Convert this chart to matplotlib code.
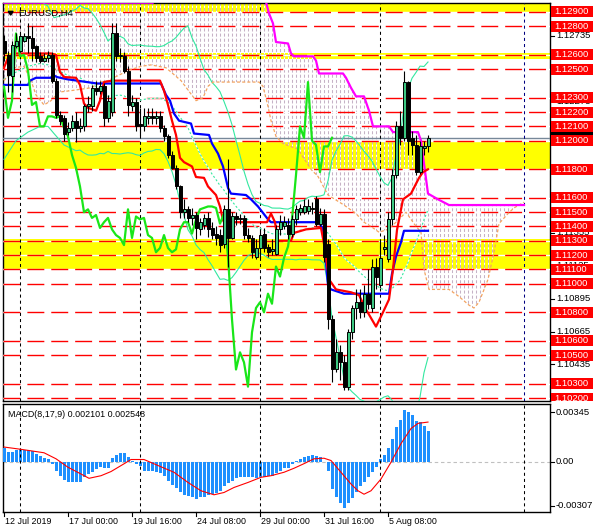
import numpy as np
import pandas as pd
import matplotlib
matplotlib.use('Agg')
import matplotlib.pyplot as plt
from matplotlib.patches import Rectangle, Polygon

plt.rcParams['font.family'] = ['Liberation Sans', 'DejaVu Sans']
plt.rcParams['lines.scale_dashes'] = False

# ---------------- data ----------------
opens = [1.1270, 1.1260, 1.1245, 1.1266, 1.1263, 1.1270, 1.1273, 1.1272, 1.1266, 1.1259,
         1.1256, 1.1258, 1.1260, 1.1242, 1.1218, 1.1216, 1.1206, 1.1209, 1.1214, 1.1209,
         1.1210, 1.1224, 1.1224, 1.1237, 1.1235, 1.1238, 1.1216, 1.1220, 1.1275, 1.1259,
         1.1259, 1.1249, 1.1224, 1.1227, 1.1212, 1.1210, 1.1216, 1.1217, 1.1216, 1.1217,
         1.1209, 1.1203, 1.1190, 1.1181, 1.1168, 1.1150, 1.1152, 1.1146, 1.1148, 1.1138,
         1.1141, 1.1146, 1.1139, 1.1135, 1.1134, 1.1128, 1.1152, 1.1132, 1.1147, 1.1145,
         1.1146, 1.1134, 1.1132, 1.1119, 1.1125, 1.1135, 1.1126, 1.1123, 1.1121, 1.1138,
         1.1140, 1.1141, 1.1135, 1.1145, 1.1150, 1.1150, 1.1151, 1.1152, 1.1159, 1.1142,
         1.1149, 1.1128, 1.1075, 1.1040, 1.1052, 1.1045, 1.1028, 1.1066, 1.1083, 1.1087,
         1.1080, 1.1093, 1.1083, 1.1112, 1.1099, 1.1124, 1.1117, 1.1145, 1.1176, 1.1210,
         1.1202, 1.1241, 1.1202, 1.1197, 1.1178, 1.1195, 1.1196]
highs = [1.1274, 1.1263, 1.1270, 1.1275, 1.1275, 1.1275, 1.1282, 1.1280, 1.1267, 1.1262,
         1.1261, 1.1263, 1.1262, 1.1244, 1.1221, 1.1218, 1.1213, 1.1218, 1.1220, 1.1216,
         1.1226, 1.1231, 1.1239, 1.1242, 1.1242, 1.1240, 1.1232, 1.1282, 1.1282, 1.1265,
         1.1262, 1.1252, 1.1232, 1.1230, 1.1223, 1.1223, 1.1223, 1.1223, 1.1221, 1.1221,
         1.1211, 1.1205, 1.1193, 1.1183, 1.1169, 1.1159, 1.1154, 1.1153, 1.1150, 1.1146,
         1.1149, 1.1150, 1.1143, 1.1140, 1.1138, 1.1155, 1.1187, 1.1150, 1.1150, 1.1149,
         1.1148, 1.1139, 1.1134, 1.1131, 1.1138, 1.1139, 1.1128, 1.1131, 1.1141, 1.1148,
         1.1147, 1.1146, 1.1148, 1.1155, 1.1156, 1.1159, 1.1159, 1.1157, 1.1161, 1.1153,
         1.1152, 1.1131, 1.1078, 1.1061, 1.1057, 1.1050, 1.1068, 1.1085, 1.1096, 1.1096,
         1.1099, 1.1110, 1.1117, 1.1118, 1.1131, 1.1134, 1.1150, 1.1180, 1.1214, 1.1221,
         1.1249, 1.1242, 1.1207, 1.1204, 1.1200, 1.1200, 1.1204]
lows = [1.1256, 1.1234, 1.1234, 1.1265, 1.1262, 1.1269, 1.1261, 1.1256, 1.1255, 1.1254,
        1.1255, 1.1255, 1.1240, 1.1216, 1.1211, 1.1200, 1.1204, 1.1207, 1.1199, 1.1206,
        1.1207, 1.1220, 1.1221, 1.1232, 1.1233, 1.1210, 1.1213, 1.1217, 1.1256, 1.1255,
        1.1247, 1.1217, 1.1221, 1.1207, 1.1203, 1.1207, 1.1212, 1.1212, 1.1212, 1.1206,
        1.1200, 1.1188, 1.1180, 1.1166, 1.1146, 1.1146, 1.1143, 1.1141, 1.1131, 1.1134,
        1.1138, 1.1133, 1.1131, 1.1127, 1.1122, 1.1125, 1.1112, 1.1131, 1.1141, 1.1142,
        1.1131, 1.1129, 1.1118, 1.1117, 1.1118, 1.1122, 1.1119, 1.1120, 1.1120, 1.1134,
        1.1138, 1.1131, 1.1133, 1.1141, 1.1148, 1.1149, 1.1149, 1.1149, 1.1140, 1.1140,
        1.1115, 1.1068, 1.1031, 1.1038, 1.1033, 1.1026, 1.1026, 1.1061, 1.1075, 1.1076,
        1.1077, 1.1082, 1.1080, 1.1096, 1.1097, 1.1120, 1.1115, 1.1141, 1.1174, 1.1197,
        1.1200, 1.1190, 1.1190, 1.1176, 1.1177, 1.1190, 1.1192]
closes = [1.1261, 1.1246, 1.1267, 1.1270, 1.1273, 1.1273, 1.1272, 1.1265, 1.1258, 1.1256,
          1.1258, 1.1260, 1.1242, 1.1218, 1.1214, 1.1205, 1.1209, 1.1214, 1.1209, 1.1210,
          1.1224, 1.1226, 1.1237, 1.1235, 1.1238, 1.1216, 1.1228, 1.1275, 1.1259, 1.1260,
          1.1249, 1.1225, 1.1227, 1.1210, 1.1210, 1.1217, 1.1217, 1.1216, 1.1217, 1.1209,
          1.1203, 1.1190, 1.1181, 1.1168, 1.1150, 1.1152, 1.1146, 1.1148, 1.1139, 1.1143,
          1.1146, 1.1138, 1.1134, 1.1132, 1.1127, 1.1152, 1.1132, 1.1147, 1.1145, 1.1146,
          1.1134, 1.1132, 1.1122, 1.1125, 1.1134, 1.1125, 1.1122, 1.1124, 1.1138, 1.1143,
          1.1143, 1.1135, 1.1145, 1.1152, 1.1153, 1.1154, 1.1154, 1.1153, 1.1142, 1.1149,
          1.1119, 1.1075, 1.1040, 1.1052, 1.1045, 1.1028, 1.1066, 1.1083, 1.1087, 1.1080,
          1.1093, 1.1086, 1.1112, 1.1105, 1.1118, 1.1126, 1.1145, 1.1176, 1.1210, 1.1202,
          1.1241, 1.1200, 1.1197, 1.1178, 1.1196, 1.1196, 1.1202]

# Tenkan (red) and Kijun (blue): bar index, price
tenkan_x = [0, 1, 2, 3, 11.75, 13, 14, 15, 18, 19, 20, 21, 23, 24, 25, 27, 39, 40, 41, 42, 43, 44,
            45, 47, 48, 50, 51, 53, 54, 54.75, 55, 65.75, 66.75, 67.75, 68.5, 71.75, 72.5, 75.5,
            79.25, 80.25, 81.25, 83, 86.75, 88.75, 90.5, 93, 94.75, 96.25, 97.25, 98.25, 99.75,
            101.75, 103.75, 104.75, 106]
tenkan_y = [1.1251, 1.1258, 1.1260, 1.1261, 1.1261, 1.1260, 1.1248, 1.12445, 1.1244, 1.1239,
            1.1226, 1.1223, 1.1221, 1.1228, 1.1241, 1.1242, 1.1242, 1.1235, 1.1225, 1.1214,
            1.1204, 1.1188, 1.1185, 1.1182, 1.11746, 1.1174, 1.1168, 1.1162, 1.1154, 1.11445,
            1.1143, 1.1143, 1.1149, 1.1143, 1.1130, 1.1130, 1.11355, 1.1138, 1.1139, 1.1124,
            1.1103, 1.1096, 1.1094, 1.1092, 1.1082, 1.1070, 1.1080, 1.1089, 1.1110, 1.11376,
            1.1159, 1.1163, 1.1174, 1.1178, 1.1180]
kijun_x = [0, 6, 6.5, 8, 11.75, 12.25, 13.25, 15.75, 18.25, 23.25, 39.25, 40.5, 41.5, 42.5,
           43.75, 46.75, 47.5, 51.25, 52, 53.5, 54.75, 56, 56.75, 60.5, 61.75, 63.5, 66, 66.75,
           78.75, 79.75, 81, 81.75, 85, 96.25, 97, 98, 99.25, 100, 106]
kijun_y = [1.1239, 1.1239, 1.1242, 1.1244, 1.1244, 1.1246, 1.12445, 1.1243, 1.1242, 1.1240,
           1.1240, 1.1232, 1.1228, 1.1219, 1.1214, 1.1212, 1.1205, 1.1204, 1.1198, 1.1191,
           1.1182, 1.1167, 1.1163, 1.1162, 1.1159, 1.1154, 1.1145, 1.1143, 1.1143, 1.1138,
           1.1099, 1.1096, 1.1093, 1.1093, 1.1107, 1.1119, 1.1129, 1.1137, 1.1137]

# Senkou span B (magenta) and span A (orange)
spanb_x = [0, 37.25, 38.5, 64.5, 65.5, 66.25, 67.25, 68, 71, 71.75, 72.5, 77.25, 78, 78.75,
           84.75, 85.5, 86.75, 88, 90, 91.25, 92.25, 96.25, 97.25, 103.5, 104.25, 105, 106,
           108.5, 111.25, 130]
spanb_y = [1.12965, 1.12965, 1.1310, 1.1310, 1.1297, 1.1289, 1.1282, 1.1269, 1.1268, 1.1261,
           1.1259, 1.1259, 1.1256, 1.1247, 1.1247, 1.1244, 1.1237, 1.1231, 1.1231, 1.1221,
           1.1210, 1.1210, 1.1206, 1.1206, 1.1200, 1.1184, 1.1163, 1.1159, 1.1155, 1.1155]
spana_x = [0, 2.5, 5, 6.75, 8, 10, 11.75, 13.75, 16.75, 21.75, 24.25, 26, 31, 34.25, 36.75,
           40.5, 44.25, 48, 49.75, 51, 52.25, 63.75, 64.75, 66, 66.75, 68, 69.75, 73.5, 76.75,
           78.5, 81, 85, 88, 90, 91.75, 93.75, 96, 98, 100.5, 102.5, 104.25, 105, 106.25,
           111.25, 113.75, 116.25, 117.5, 118.75, 121, 122.5, 123.75, 126, 127.5, 130]
spana_y = [1.1242, 1.1251, 1.1252, 1.1242, 1.1232, 1.1225, 1.1228, 1.1234, 1.1235, 1.1237,
           1.1241, 1.1242, 1.1249, 1.1252, 1.1253, 1.1251, 1.1242, 1.1228, 1.1230, 1.1238,
           1.1241, 1.1241, 1.1238, 1.1224, 1.1214, 1.1203, 1.1198, 1.1194, 1.1180, 1.1175,
           1.1162, 1.1155, 1.1149, 1.1143, 1.1140, 1.1136, 1.1138, 1.1143, 1.1150, 1.1142,
           1.1136, 1.1110, 1.1096, 1.1096, 1.1091, 1.1085, 1.1083, 1.1087, 1.1103, 1.1122,
           1.1142, 1.1149, 1.1153, 1.1157]

# Bollinger bands (20, 2): first bars (need earlier history)
bb_period = 20
bb_early_x = [0, 3, 6, 9, 11, 12.5, 15, 18]
bb_early_up = [1.1302, 1.1301, 1.1300, 1.1298, 1.1294, 1.1286, 1.1288, 1.1292]
bb_early_mid = [1.1243, 1.1248, 1.1252, 1.1254, 1.1253, 1.1251, 1.1247, 1.1243]
bb_early_lo = [1.1187, 1.1200, 1.1206, 1.1210, 1.1210, 1.1205, 1.1197, 1.1193]

chikou_shift = 24

levels = [1.1290, 1.1280, 1.1260, 1.1250, 1.1230, 1.1220, 1.1210, 1.1200, 1.1180, 1.1160,
          1.1150, 1.1140, 1.1130, 1.1120, 1.1110, 1.1100, 1.1080, 1.1060, 1.1050, 1.1030, 1.1020]
zones = [(1.1290, 1.1300), (1.12571, 1.12611), (1.1180, 1.11993), (1.1110, 1.1131)]
current_price = 1.12019
scale_ticks = [1.12735, 1.12275, 1.11355, 1.11125, 1.10895, 1.10665, 1.10435]
vlines_idx = [4, 34, 64, 94, 130]
cloud_bars = list(range(0, 131))

macd_hist = [0.00092, 0.00063, 0.00066, 0.00077, 0.00085, 0.00077, 0.00077, 0.00070, 0.00054, 0.00035,
             0.00026, 0.00019, -0.00016, -0.00063, -0.00099, -0.00127, -0.00146, -0.00146, -0.00146, -0.00146,
             -0.00110, -0.00087, -0.00075, -0.00052, -0.00040, -0.00047, -0.00047, 0.00023, 0.00047, 0.00061,
             0.00061, 0.00030, 0.00007, -0.00016, -0.00028, -0.00063, -0.00063, -0.00063, -0.00070, -0.00080,
             -0.00100, -0.00134, -0.00164, -0.00188, -0.00216, -0.00232, -0.00240, -0.00246, -0.00258, -0.00244,
             -0.00244, -0.00235, -0.00228, -0.00220, -0.00204, -0.00174, -0.00150, -0.00134, -0.00117, -0.00110,
             -0.00110, -0.00110, -0.00110, -0.00117, -0.00110, -0.00110, -0.00100, -0.00099, -0.00080, -0.00063,
             -0.00047, -0.00047, -0.00020, 0.00007, 0.00019, 0.00030, 0.00035, 0.00042, 0.00035, 0.00030,
             -0.00003, -0.00063, -0.00192, -0.00244, -0.00286, -0.00321, -0.00286, -0.00251, -0.00211, -0.00174,
             -0.00146, -0.00110, -0.00075, -0.00040, 0.00019, 0.00042, 0.00094, 0.00160, 0.00242, 0.00289,
             0.00359, 0.00347, 0.00324, 0.00282, 0.00277, 0.00249, 0.00210]
signal_x = [0, 4.25, 10, 13, 16, 19.25, 21.25, 24.25, 26.75, 30, 31.75, 35, 38.5, 42.5, 46, 49.25,
            52.5, 55, 57.5, 61, 64.25, 66.75, 70, 72.5, 75, 77.5, 80, 81.75, 84.25, 86.75, 88.5, 90,
            91.75, 94.25, 96.75, 99.25, 101.75, 103.5, 106]
signal_y = [0.00101, 0.00085, 0.00061, 0.00019, -0.00040, -0.00087, -0.00117, -0.00099, -0.00070,
            -0.00016, 0.00014, 0.00014, -0.00028, -0.00075, -0.00146, -0.00204, -0.00232, -0.00216,
            -0.00181, -0.00146, -0.00110, -0.00099, -0.00075, -0.00047, -0.00015, 0.00019, 0.00023,
            0.00007, -0.00075, -0.00157, -0.00204, -0.00228, -0.00204, -0.00122, -0.00005, 0.00125,
            0.00230, 0.00266, 0.00275]
macd_ticks = [0.00345, 0.0, -0.00307]
macd_tick_labels = ['0.00345', '0.00', '-0.00307']

time_tick_idx = [0, 16, 32, 48, 64, 80, 96]
time_labels = ['12 Jul 2019', '17 Jul 00:00', '19 Jul 16:00', '24 Jul 08:00', '29 Jul 00:00',
               '31 Jul 16:00', '5 Aug 08:00']

# ---------------- layout ----------------
W, H = 595, 532
fig = plt.figure(figsize=(W / 100, H / 100), dpi=100)
fig.patch.set_facecolor('white')


def rect(l, t, r, b):
    return [l / W, 1 - b / H, (r - l) / W, (b - t) / H]


ax = fig.add_axes(rect(3, 3, 550, 401))
axm = fig.add_axes(rect(3, 404, 550, 512))
axr = fig.add_axes(rect(550, 3, 595, 401))
axmr = fig.add_axes(rect(550, 404, 595, 512))

XL = (-0.25, 136.5)
YL = (1.101797, 1.129629)
MYL = (-0.00352, 0.00401)
ax.set_xlim(*XL); ax.set_ylim(*YL)
axm.set_xlim(*XL); axm.set_ylim(*MYL)
axr.set_xlim(0, 1); axr.set_ylim(*YL)
axmr.set_xlim(0, 1); axmr.set_ylim(*MYL)
for a in (axr, axmr):
    a.axis('off')
for a in (ax, axm):
    a.set_xticks([]); a.set_yticks([])
    for s in a.spines.values():
        s.set_color('black'); s.set_linewidth(1.0)

idx = np.arange(len(closes))
o = np.array(opens); h = np.array(highs); l = np.array(lows); c = np.array(closes)

# yellow zones
for lo, hi in zones:
    ax.axhspan(lo, hi, color='#FFFF00', lw=0, zorder=1)

# cloud: dotted vertical lines (white gaps) at every bar, clipped between the spans
poly = list(zip(spana_x, spana_y)) + list(zip(spanb_x[::-1], spanb_y[::-1]))
cloud = Polygon(poly, closed=True, facecolor='none', edgecolor='none', lw=0)
ax.add_patch(cloud)
vw = ax.vlines(cloud_bars, YL[0], YL[1], colors='white', lw=0.75, zorder=1.9)
vw.set_clip_path(cloud)
vl = ax.vlines(cloud_bars, YL[0], YL[1], colors='#C6B2C6', lw=0.75,
               linestyles=[(0, (2.2, 1.5))], zorder=2)
vl.set_clip_path(cloud)

# level lines
for lv in levels:
    ax.axhline(lv, color='white', lw=1.0, zorder=3)
    ax.axhline(lv, color='#FF0000', lw=1.0, dashes=(12.2, 5.0), zorder=3.1)

ax.axhline(current_price, color='#778899', lw=1.0, zorder=3.2)

for vx in vlines_idx[:-1]:
    ax.axvline(vx, color='black', lw=0.75, dashes=(2.2, 2.2), zorder=3.3)
    axm.axvline(vx, color='black', lw=0.75, dashes=(2.2, 2.2), zorder=3.3)
ax.axvline(vlines_idx[-1], color='#000080', lw=0.75, dashes=(2.2, 2.2), zorder=3.3)
axm.axvline(vlines_idx[-1], color='black', lw=0.75, dashes=(2.2, 2.2), zorder=3.3)

# Bollinger bands
cs = pd.Series(closes)
bb_mid = cs.rolling(bb_period).mean()
bb_sd = cs.rolling(bb_period).std(ddof=0)
start = bb_period - 1
bx = list(bb_early_x) + list(idx[start:])
bup = list(bb_early_up) + list((bb_mid + 2 * bb_sd)[start:])
blo = list(bb_early_lo) + list((bb_mid - 2 * bb_sd)[start:])
bmid = list(bb_early_mid) + list(bb_mid[start:])
band_col = '#33E8A0'
ax.plot(bx, bup, color=band_col, lw=0.8, zorder=4)
ax.plot(bx, blo, color=band_col, lw=0.8, zorder=4)
ax.plot(bx, bmid, color='white', lw=0.8, zorder=4)
ax.plot(bx, bmid, color=band_col, lw=0.8, dashes=(1.5, 1.5), zorder=4.01)

# spans
ax.plot(spana_x, spana_y, color='#F4A460', lw=0.9, dashes=(2.2, 1.5), zorder=4.2)
ax.plot(spanb_x, spanb_y, color='#FF00FF', lw=1.6, zorder=4.5)

# tenkan / kijun / chikou
ax.plot(kijun_x, kijun_y, color='#0000FF', lw=1.6, zorder=4.6)
ax.plot(tenkan_x, tenkan_y, color='#FF0000', lw=1.6, zorder=4.7)
ax.plot(idx - chikou_shift, c, color='#19E619', lw=1.6, zorder=4.8)

# candles
ax.vlines(idx, l, h, color='black', lw=0.8, zorder=6)
up = c >= o
body_b = np.minimum(o, c)
body_h = np.maximum(np.abs(c - o), 0.00003)
ax.bar(idx, body_h, bottom=body_b, width=0.75,
       color=np.where(up, '#3CC882', '#000000'), edgecolor='black', lw=0.7, zorder=7)

# title
ax.text(0.0275, 0.986, 'EURUSD,H4', transform=ax.transAxes, fontsize=6.8,
        color='black', va='top', ha='left', zorder=10)
ax.add_patch(Polygon([(0.0095, 0.979), (0.0185, 0.979), (0.014, 0.9695)], closed=True,
                     transform=ax.transAxes, color='black', zorder=10))

# price scale
px = 1.0 / 14300.0
for t in scale_ticks:
    axr.plot([0, 4 / 45], [t, t], color='black', lw=0.8, zorder=1)
    axr.text(6 / 45, t, '%.5f' % t, fontsize=6.8, color='black', va='center', ha='left', zorder=1)
axr.add_patch(Rectangle((1 / 45, current_price - 5.5 * px), 42 / 45, 11 * px,
                        facecolor='black', edgecolor='none', zorder=2))
for lv in levels:
    axr.add_patch(Rectangle((1 / 45, lv - 5.5 * px), 42 / 45, 11 * px,
                            facecolor='#FF0000', edgecolor='none', zorder=3))
    axr.text(4 / 45, lv, '%.5f' % lv, fontsize=6.8, color='white', va='center',
             ha='left', zorder=4)

# MACD
axm.axhline(0, color='#C0C0C0', lw=0.8, dashes=(2.5, 2.0), zorder=2)
axm.bar(idx, macd_hist, width=0.75, color='#1E90FF', lw=0, zorder=3)
axm.plot(signal_x, signal_y, color='#FF0000', lw=0.8, zorder=4)
axm.text(0.009, 0.90, 'MACD(8,17,9) 0.002101 0.002548', transform=axm.transAxes,
         fontsize=6.4, color='black', va='center', ha='left', zorder=10)
for t, s in zip(macd_ticks, macd_tick_labels):
    axmr.plot([0, 4 / 45], [t, t], color='black', lw=0.8)
    axmr.text(6 / 45, t, s, fontsize=6.8, color='black', va='center', ha='left')

# time axis
for ti, lab in zip(time_tick_idx, time_labels):
    axm.plot([ti, ti], [0, -0.04], transform=axm.get_xaxis_transform(), color='black',
             lw=0.8, clip_on=False)
    axm.text(ti + 0.3, -0.085, lab, transform=axm.get_xaxis_transform(), fontsize=6.4,
             color='black', va='center', ha='left', clip_on=False)

fig.savefig('out.png', dpi=100)
